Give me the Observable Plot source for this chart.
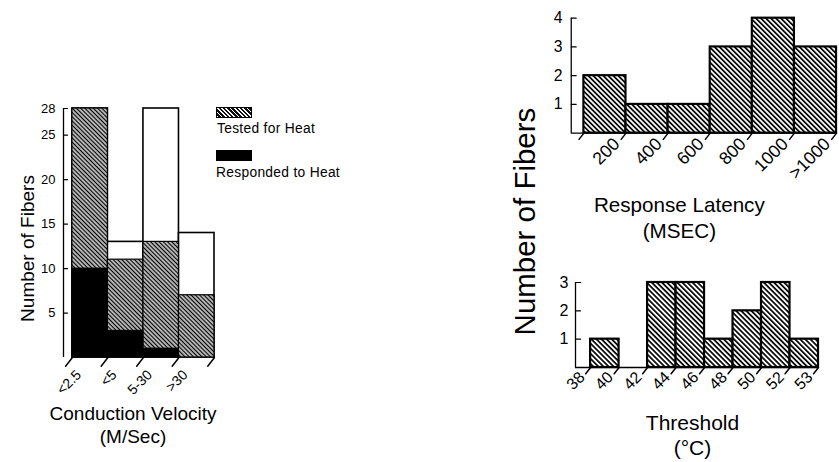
<!DOCTYPE html>
<html>
<head>
<meta charset="utf-8">
<script src="https://cdn.jsdelivr.net/npm/d3@7"></script>
<script src="https://cdn.jsdelivr.net/npm/@observablehq/plot@0.6"></script>
<style>
  html, body { margin: 0; padding: 0; background: white; }
  #fig { position: relative; width: 839px; height: 462px; overflow: hidden; background: white;
         font-family: "Liberation Sans", Arial, sans-serif; color: black; }
  #fig > .panel { position: absolute; }
  .sw { position: absolute; border: 1px solid black; box-sizing: border-box; }
  .sw.hatch { background: repeating-linear-gradient(45deg, #fff 0px, #fff 1.2px, #111 1.2px, #111 3px); }
  .sw.solid { background: black; }
  .lab { position: absolute; font-size: 13.8px; line-height: 1; white-space: nowrap; letter-spacing: 0.3px; }
</style>
</head>
<body>
<div id="fig">
  <div class="panel" id="pA" style="left:0px;top:0px"></div>
  <div class="panel" id="pB" style="left:500px;top:0px"></div>
  <div class="panel" id="pC" style="left:500px;top:230px"></div>
  <div class="sw hatch" style="left:216px;top:107px;width:36px;height:11px"></div>
  <div class="lab" style="left:217px;top:122px">Tested for Heat</div>
  <div class="sw solid" style="left:216px;top:150px;width:36px;height:11px"></div>
  <div class="lab" style="left:216px;top:166px">Responded to Heat</div>
</div>
<script>
// ---- Data: conduction velocity panel ----
const velocityCats = ["<2.5", "<5", "5-30", ">30"];
const totalFibers = [28, 13, 28, 14];
const testedHeat = [28, 11, 13, 7];
const respondedHeat = [10, 3, 1, 0];
const velocityTicks = [5, 10, 15, 20, 25, 28];

// ---- Data: response latency panel ----
const latencyLabels = ["200", "400", "600", "800", "1000", ">1000"];
const latencyCounts = [2, 1, 1, 3, 4, 3];
const latencyTicks = [1, 2, 3, 4];

// ---- Data: threshold panel ----
const thresholdEdges = ["38", "40", "42", "44", "46", "48", "50", "52", "53"];
const thresholdCounts = [1, 0, 3, 3, 1, 2, 3, 1];
const thresholdTicks = [1, 2, 3];

const FONT = '"Liberation Sans", Arial, sans-serif';
const intFmt = d3.format("d");
const lineShape = { draw(ctx, l) { ctx.moveTo(0, 0); ctx.lineTo(0, -l); } };

function hatchDefs(id, size, w) {
  return () => {
    const defs = d3.create("svg:defs");
    const p = defs.append("pattern")
      .attr("id", id)
      .attr("patternUnits", "userSpaceOnUse")
      .attr("width", size).attr("height", size)
      .attr("patternTransform", "rotate(-45)");
    p.append("rect").attr("width", size).attr("height", size).attr("fill", "white");
    p.append("line")
      .attr("x1", size / 2).attr("y1", 0).attr("x2", size / 2).attr("y2", size)
      .attr("stroke", "black").attr("stroke-width", w);
    return defs.node();
  };
}

const baseStyle = { background: "none", overflow: "visible", fontFamily: FONT, color: "black" };

// ---- Panel A: conduction velocity ----
const velIdx = velocityCats.map((d, i) => i);
const xMinA = -0.25;
const plotA = Plot.plot({
  width: 300, height: 462,
  marginLeft: 63, marginRight: 86, marginTop: 108, marginBottom: 105,
  style: baseStyle,
  x: { domain: [xMinA, velocityCats.length], axis: null },
  y: { domain: [0, 28] },
  marks: [
    hatchDefs("hatchA", 3, 1.6),
    Plot.rectY(velIdx, { x1: i => i, x2: i => i + 1, y: i => totalFibers[i], fill: "white", stroke: "black", strokeWidth: 1.6 }),
    Plot.rectY(velIdx, { x1: i => i, x2: i => i + 1, y: i => testedHeat[i], fill: "url(#hatchA)", stroke: "black", strokeWidth: 1.2 }),
    Plot.rectY(velIdx.filter(i => respondedHeat[i] > 0), { x1: i => i, x2: i => i + 1, y: i => respondedHeat[i], fill: "black", stroke: "black", strokeWidth: 1 }),
    Plot.ruleX([xMinA], { y1: 0, y2: 28, strokeWidth: 1.3 }),
    Plot.vector(velocityTicks, { x: xMinA, y: d => d, length: 4, rotate: 90, anchor: "start", shape: lineShape, strokeWidth: 1.2 }),
    Plot.axisY({ ticks: velocityTicks, tickSize: 0, tickPadding: 8, fontSize: 13, label: null, tickFormat: intFmt }),
    Plot.vector(d3.range(velocityCats.length + 1), { x: d => d, y: 0, length: 11, rotate: 218, anchor: "start", shape: lineShape, strokeWidth: 1.5 }),
    Plot.text(velIdx, { x: i => i + 0.18, y: 0, text: i => velocityCats[i], rotate: -45, textAnchor: "end", dy: 15, fontSize: 14 }),
    Plot.text(["Conduction Velocity\n(M/Sec)"], { frameAnchor: "bottom", textAnchor: "middle", lineAnchor: "top", dx: -6, dy: 46.5, fontSize: 19, lineHeight: 1.21 }),
    Plot.text(["Number of Fibers"], { frameAnchor: "left", textAnchor: "middle", lineAnchor: "middle", rotate: -90, dx: -36, dy: 15.5, fontSize: 19 })
  ]
});
document.getElementById("pA").append(plotA);

// ---- Panel B: response latency ----
const latIdx = latencyCounts.map((d, i) => i);
const xMinB = -0.3;
const plotB = Plot.plot({
  width: 345, height: 250,
  marginLeft: 72, marginRight: 3, marginTop: 18, marginBottom: 115,
  style: baseStyle,
  x: { domain: [xMinB, latencyCounts.length], axis: null },
  y: { domain: [0, 4] },
  marks: [
    hatchDefs("hatchB", 3.6, 1.7),
    Plot.ruleY([0], { strokeWidth: 1.5 }),
    Plot.rectY(latIdx, { x1: i => i, x2: i => i + 1, y: i => latencyCounts[i], fill: "url(#hatchB)", stroke: "black", strokeWidth: 2.2 }),
    Plot.ruleX([xMinB], { y1: 0, y2: 4, strokeWidth: 1.3 }),
    Plot.vector(latencyTicks, { x: xMinB, y: d => d, length: 5, rotate: 90, anchor: "start", shape: lineShape, strokeWidth: 1.2 }),
    Plot.axisY({ ticks: latencyTicks, tickSize: 0, tickPadding: 9, fontSize: 16, label: null, tickFormat: intFmt }),
    Plot.vector(d3.range(latencyCounts.length + 1), { x: d => d, y: 0, length: 8, rotate: 218, anchor: "start", shape: lineShape, strokeWidth: 1.5 }),
    Plot.text(latIdx, { x: i => i + 0.78, y: 0, text: i => latencyLabels[i], rotate: -45, textAnchor: "end", dy: 8, fontSize: 18, letterSpacing: 0.5 }),
    Plot.text(["Response Latency\n(MSEC)"], { frameAnchor: "bottom", textAnchor: "middle", lineAnchor: "top", dx: -25, dy: 61, fontSize: 21, lineHeight: 1.28, letterSpacing: 1 }),
    Plot.text(["Number of Fibers"], { frameAnchor: "left", textAnchor: "middle", lineAnchor: "middle", rotate: -90, dx: -46, dy: 148.5, fontSize: 30 })
  ]
});
document.getElementById("pB").append(plotB);

// ---- Panel C: threshold ----
const thrIdx = thresholdCounts.map((d, i) => i);
const xMinC = -0.53;
const plotC = Plot.plot({
  width: 339, height: 232,
  marginLeft: 75, marginRight: 21, marginTop: 52, marginBottom: 95,
  style: baseStyle,
  x: { domain: [xMinC, thresholdCounts.length], axis: null },
  y: { domain: [0, 3] },
  marks: [
    hatchDefs("hatchC", 3.6, 1.7),
    Plot.ruleY([0], { strokeWidth: 1.5 }),
    Plot.rectY(thrIdx.filter(i => thresholdCounts[i] > 0), { x1: i => i, x2: i => i + 1, y: i => thresholdCounts[i], fill: "url(#hatchC)", stroke: "black", strokeWidth: 2.2 }),
    Plot.ruleX([xMinC], { y1: 0, y2: 3, strokeWidth: 1.3 }),
    Plot.vector(thresholdTicks, { x: xMinC, y: d => d, length: 5, rotate: 90, anchor: "start", shape: lineShape, strokeWidth: 1.2 }),
    Plot.axisY({ ticks: thresholdTicks, tickSize: 0, tickPadding: 7, fontSize: 16, label: null, tickFormat: intFmt }),
    Plot.vector(d3.range(thresholdEdges.length), { x: d => d, y: 0, length: 8, rotate: 218, anchor: "start", shape: lineShape, strokeWidth: 1.5 }),
    Plot.text(thresholdEdges.map((d, k) => k), { x: k => k - 0.3, y: 0, text: k => thresholdEdges[k], rotate: -45, textAnchor: "end", dy: 7, fontSize: 16 }),
    Plot.text(["Threshold\n(°C)"], { frameAnchor: "bottom", textAnchor: "middle", lineAnchor: "top", dx: -4.5, dy: 45, fontSize: 21, lineHeight: 1.18, letterSpacing: 0.5 })
  ]
});
document.getElementById("pC").append(plotC);
</script>
</body>
</html>
